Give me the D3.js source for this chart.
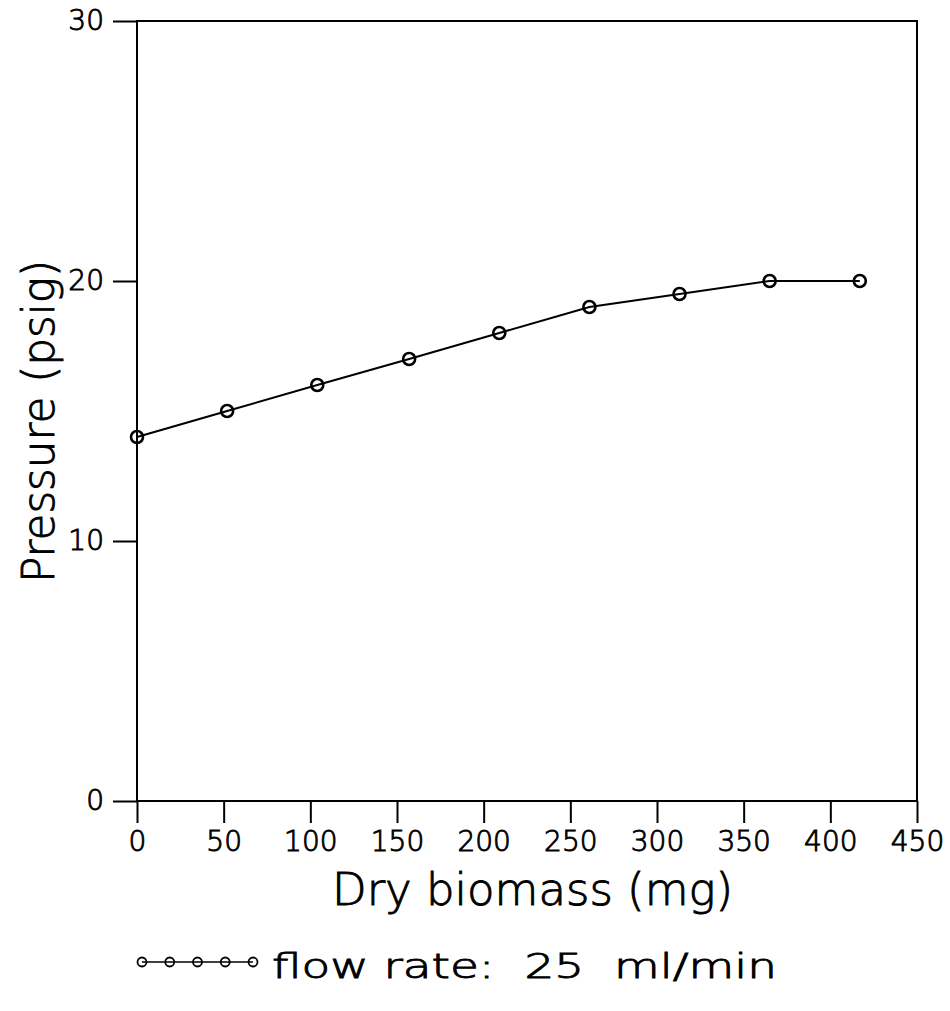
<!DOCTYPE html>
<html>
<head>
<meta charset="utf-8">
<script src="https://cdn.jsdelivr.net/npm/d3@7"></script>
<style>
  html, body { margin: 0; padding: 0; background: #fff; }
  svg text { font-family: "DejaVu Sans", sans-serif; font-weight: 200; fill: #000; stroke: #000; stroke-width: 0.9px; }
</style>
</head>
<body>
<svg id="chart" width="950" height="1011"></svg>
<script>
// Dry biomass (mg) and measured pressure (psig)
const biomass = [0, 52, 104, 157, 209, 261, 313, 365, 417];
const pressure = [14, 15, 16, 17, 18, 19, 19.5, 20, 20];
const xTicks = [0, 50, 100, 150, 200, 250, 300, 350, 400, 450];
const yTicks = [0, 10, 20, 30];
const xTitle = "Dry biomass (mg)";
const yTitle = "Pressure (psig)";
const legendLabel = "flow rate:  25  ml/min";

const svg = d3.select("#chart");
const plotL = 137, plotR = 917, plotT = 21, plotB = 801;

const x = d3.scaleLinear().domain([0, 450]).range([plotL, plotR]);
const y = d3.scaleLinear().domain([0, 30]).range([plotB, plotT]);

const ink = "#000";

// frame
svg.append("rect")
  .attr("x", plotL).attr("y", plotT)
  .attr("width", plotR - plotL).attr("height", plotB - plotT)
  .attr("fill", "none").attr("stroke", ink).attr("stroke-width", 2);

// x axis
const xAxis = svg.append("g")
  .attr("transform", `translate(0,${plotB})`)
  .call(d3.axisBottom(x).tickValues(xTicks).tickSize(22).tickPadding(8).tickFormat(d3.format("d")));
xAxis.select(".domain").remove();
xAxis.selectAll(".tick line").attr("stroke", ink).attr("stroke-width", 2);
xAxis.selectAll(".tick text").attr("font-size", 28).attr("font-family", null).attr("fill", null);

// y axis
const yAxis = svg.append("g")
  .attr("transform", `translate(${plotL},0)`)
  .call(d3.axisLeft(y).tickValues(yTicks).tickSize(24).tickPadding(9).tickFormat(d3.format("d")));
yAxis.select(".domain").remove();
yAxis.selectAll(".tick line").attr("stroke", ink).attr("stroke-width", 2);
yAxis.selectAll(".tick text").attr("font-size", 28).attr("font-family", null).attr("fill", null);

// axis titles
svg.append("text")
  .attr("x", (332 + 733) / 2).attr("y", 905)
  .attr("text-anchor", "middle")
  .attr("font-size", 44)
  .attr("textLength", 401).attr("lengthAdjust", "spacingAndGlyphs")
  .text(xTitle);

svg.append("text")
  .attr("transform", `translate(54,${(260 + 583) / 2}) rotate(-90)`)
  .attr("text-anchor", "middle")
  .attr("font-size", 44)
  .attr("textLength", 323).attr("lengthAdjust", "spacingAndGlyphs")
  .text(yTitle);

// data line and markers
const pts = biomass.map((b, i) => [b, pressure[i]]);
svg.append("path")
  .datum(pts)
  .attr("fill", "none").attr("stroke", ink).attr("stroke-width", 2)
  .attr("d", d3.line().x(d => x(d[0])).y(d => y(d[1])));

svg.append("g").selectAll("circle")
  .data(pts).join("circle")
  .attr("cx", d => x(d[0])).attr("cy", d => y(d[1]))
  .attr("r", 6).attr("fill", "none")
  .attr("stroke", ink).attr("stroke-width", 2.6);

// legend
const legY = 962;
const legendX = d3.scaleLinear().domain([0, 4]).range([142, 253]);
const legend = svg.append("g");
legend.append("line")
  .attr("x1", legendX(0)).attr("x2", legendX(4))
  .attr("y1", legY).attr("y2", legY)
  .attr("stroke", ink).attr("stroke-width", 1.6);
legend.selectAll("circle")
  .data(d3.range(5)).join("circle")
  .attr("cx", d => legendX(d)).attr("cy", legY)
  .attr("r", 4.5).attr("fill", "none")
  .attr("stroke", ink).attr("stroke-width", 1.8);
legend.append("text")
  .attr("x", 272).attr("y", 978)
  .attr("font-size", 33)
  .attr("textLength", 505).attr("lengthAdjust", "spacingAndGlyphs")
  .attr("xml:space", "preserve")
  .style("white-space", "pre")
  .text(legendLabel);
</script>
</body>
</html>
